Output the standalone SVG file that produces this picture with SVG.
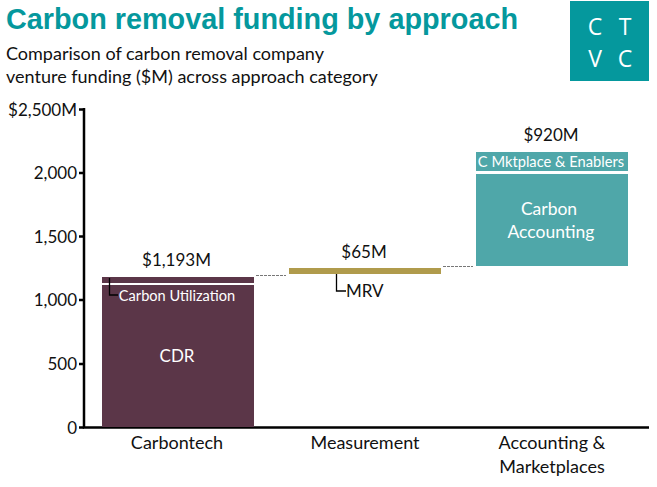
<svg xmlns="http://www.w3.org/2000/svg" width="657" height="487" viewBox="0 0 657 487">
<style>
text{font-family:"Lato","Open Sans","Liberation Sans",sans-serif;font-size:17px;fill:#111}
.w{fill:#fff}
.t{text-anchor:middle}
.e{text-anchor:end}
.c{font-size:18px}
.l{font-family:"Open Sans",sans-serif;font-size:23px}
.ax{stroke:#000;stroke-width:2.5;fill:none}
.dash{stroke:#777;stroke-width:1;stroke-dasharray:3 1;fill:none}
.lead{stroke:#000;stroke-width:1.3;fill:none}
</style>
<rect width="657" height="487" fill="#fff"/>
<text id="title" x="6" y="29" style="font-family:'Liberation Sans',sans-serif;font-size:28.800px;font-weight:bold;fill:#05989d">Carbon removal funding by approach</text>
<text id="sub1" x="6" y="60" class="c">Comparison of carbon removal company</text>
<text id="sub2" x="6" y="83" class="c">venture funding ($M) across approach category</text>
<g id="logo">
<rect x="570" y="1" width="79" height="80" fill="#05989d"/>
<text class="w t l" x="595" y="35">C</text>
<text class="w t l" x="625" y="35">T</text>
<text class="w t l" x="595" y="67">V</text>
<text class="w t l" x="625" y="67">C</text>
</g>
<g id="axis">
<path class="ax" d="M84 108V427.500H649"/>
<path class="ax" d="M79 109.500H84M79 173H84M79 236.500H84M79 300H84M79 364H84M79 427.500H84"/>
<text class="e" x="77" y="116">$2,500M</text>
<text class="e" x="77" y="179">2,000</text>
<text class="e" x="77" y="243">1,500</text>
<text class="e" x="77" y="306">1,000</text>
<text class="e" x="77" y="370">500</text>
<text class="e" x="77" y="434">0</text>
<text class="t c" x="177" y="449">Carbontech</text>
<text class="t c" x="365" y="449">Measurement</text>
<text class="t c" x="552" y="449">Accounting &amp;</text>
<text class="t c" x="552" y="473">Marketplaces</text>
</g>
<g id="carbontech">
<rect x="102" y="277" width="152" height="150" fill="#5b3648"/>
<rect x="102" y="283" width="152" height="2" fill="#fff"/>
<text class="w t" x="177" y="301" style="font-size:14.600px">Carbon Utilization</text>
<text class="w t" x="177" y="362">CDR</text>
<text class="t" x="176.500" y="266">$1,193M</text>
</g>
<g id="measurement">
<rect x="289" y="268" width="152" height="6" fill="#b09b4c"/>
<text class="t" x="364" y="258">$65M</text>
<text x="346" y="297">MRV</text>
</g>
<g id="accounting">
<rect x="476" y="152" width="152" height="19" fill="#4fa7a9"/>
<rect x="476" y="174" width="152" height="92" fill="#4fa7a9"/>
<text class="w t" x="551" y="167" style="font-size:14.700px">C Mktplace &amp; Enablers</text>
<text class="w t" x="549" y="215" style="font-size:17.500px">Carbon</text>
<text class="w t" x="551" y="238" style="font-size:17.500px">Accounting</text>
<text class="t" x="551" y="141">$920M</text>
</g>
<g id="connectors">
<path class="dash" d="M256 275.500H286"/>
<path class="dash" d="M443 266.500H473"/>
<path class="lead" d="M109.500 278V295H118"/>
<path class="lead" d="M336.500 274V291H346"/>
</g>
</svg>
